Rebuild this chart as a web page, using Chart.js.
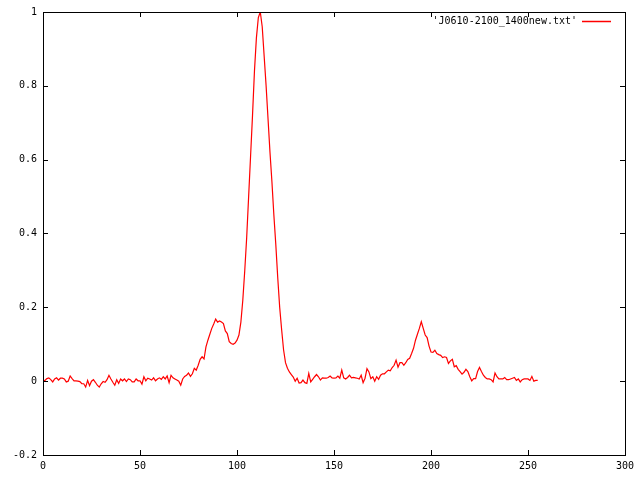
<!DOCTYPE html>
<html>
<head>
<meta charset="utf-8">
<script src="https://cdn.jsdelivr.net/npm/chart.js@4/dist/chart.umd.min.js"></script>
<style>
html,body{margin:0;padding:0;background:#fff;}
#wrap{width:640px;height:480px;}
</style>
</head>
<body>
<div id="wrap"><canvas id="c" width="640" height="480"></canvas></div>
<script>
const seriesLabel = "'J0610-2100_1400new.txt'";
const intensity = [
 0.000, 0.002, 0.007, 0.009, 0.004, -0.002, 0.006, 0.009, 0.003, 0.008,
 0.008, 0.006, -0.002, 0.000, 0.014, 0.007, 0.001, 0.001, 0.000, -0.001,
 -0.007, -0.007, -0.016, 0.002, -0.012, 0.000, 0.004, -0.003, -0.011, -0.016,
 -0.007, -0.001, -0.003, 0.004, 0.016, 0.006, -0.003, -0.011, 0.004, -0.006,
 0.006, 0.001, 0.006, -0.001, 0.006, 0.004, -0.002, -0.002, 0.006, 0.001,
 0.001, -0.008, 0.012, 0.001, 0.008, 0.006, 0.003, 0.009, 0.001, 0.006,
 0.009, 0.005, 0.012, 0.006, 0.014, -0.004, 0.016, 0.009, 0.006, 0.003,
 0.000, -0.011, 0.006, 0.013, 0.016, 0.022, 0.013, 0.020, 0.035, 0.030,
 0.043, 0.059, 0.066, 0.060, 0.093, 0.111, 0.127, 0.143, 0.155, 0.168,
 0.160, 0.163, 0.160, 0.156, 0.136, 0.129, 0.107, 0.102, 0.100, 0.103,
 0.111, 0.125, 0.160, 0.220, 0.300, 0.390, 0.500, 0.610, 0.720, 0.840,
 0.930, 0.985, 1.000, 0.960, 0.880, 0.800, 0.710, 0.620, 0.540, 0.450,
 0.370, 0.280, 0.200, 0.140, 0.085, 0.050, 0.035, 0.025, 0.018, 0.011,
 0.000, 0.008, -0.005, -0.004, 0.003, -0.004, -0.006, 0.021, -0.002, 0.005,
 0.012, 0.018, 0.012, 0.003, 0.009, 0.008, 0.008, 0.010, 0.014, 0.009,
 0.008, 0.009, 0.014, 0.008, 0.030, 0.009, 0.006, 0.010, 0.016, 0.009,
 0.010, 0.009, 0.008, 0.006, 0.016, -0.004, 0.008, 0.034, 0.025, 0.007,
 0.012, 0.000, 0.012, 0.005, 0.016, 0.020, 0.020, 0.025, 0.030, 0.028,
 0.037, 0.043, 0.057, 0.038, 0.050, 0.050, 0.043, 0.050, 0.059, 0.062,
 0.075, 0.089, 0.111, 0.127, 0.143, 0.161, 0.143, 0.125, 0.118, 0.095,
 0.079, 0.078, 0.084, 0.075, 0.072, 0.070, 0.064, 0.066, 0.064, 0.048,
 0.055, 0.059, 0.039, 0.042, 0.032, 0.026, 0.019, 0.024, 0.032, 0.026,
 0.012, 0.001, 0.007, 0.007, 0.026, 0.037, 0.026, 0.016, 0.010, 0.006,
 0.006, 0.004, -0.002, 0.022, 0.012, 0.006, 0.006, 0.006, 0.010, 0.004,
 0.004, 0.006, 0.008, 0.010, 0.002, 0.006, -0.002, 0.004, 0.006, 0.006,
 0.006, 0.002, 0.013, 0.000, 0.002, 0.002
];
const binIndex = intensity.map((_, i) => i);
const xTicks = [0, 50, 100, 150, 200, 250, 300];
const yTicks = [-0.2, 0, 0.2, 0.4, 0.6, 0.8, 1];

const FONT = "DejaVu Sans Mono";
const LINE_COLOR = 'rgb(255,0,0)';

const framePlugin = {
  id: 'gnuFrame',
  afterDraw(chart) {
    const ctx = chart.ctx, a = chart.chartArea;
    const xs = chart.scales.x, ys = chart.scales.y;
    const tl = 5;
    ctx.save();
    ctx.strokeStyle = '#000';
    ctx.lineWidth = 1;
    ctx.beginPath();
    xTicks.forEach(v => {
      const p = Math.round(xs.getPixelForValue(v)) + 0.5;
      ctx.moveTo(p, a.bottom); ctx.lineTo(p, a.bottom - tl);
      ctx.moveTo(p, a.top); ctx.lineTo(p, a.top + tl);
    });
    yTicks.forEach(v => {
      const p = Math.round(ys.getPixelForValue(v)) + 0.5;
      ctx.moveTo(a.left, p); ctx.lineTo(a.left + tl, p);
      ctx.moveTo(a.right, p); ctx.lineTo(a.right - tl, p);
    });
    ctx.stroke();
    ctx.strokeRect(Math.round(a.left) + 0.5, Math.round(a.top) + 0.5,
                   Math.round(a.right - a.left), Math.round(a.bottom - a.top));
    // legend (gnuplot style, inside top-right)
    const ds = chart.data.datasets[0];
    ctx.font = '10px "' + FONT + '"';
    ctx.fillStyle = '#000';
    ctx.textAlign = 'right';
    ctx.textBaseline = 'middle';
    const ly = Math.round(a.top + 9);
    ctx.fillText(ds.label, a.right - 48, ly);
    ctx.beginPath();
    ctx.strokeStyle = LINE_COLOR;
    ctx.lineWidth = 1.5;
    ctx.moveTo(Math.round(a.right - 43), ly + 0.5);
    ctx.lineTo(Math.round(a.right - 14), ly + 0.5);
    ctx.stroke();
    ctx.restore();
  }
};

new Chart(document.getElementById('c'), {
  type: 'line',
  data: {
    datasets: [{
      label: seriesLabel,
      data: binIndex.map((x, i) => ({x: x, y: intensity[i]})),
      borderColor: LINE_COLOR,
      borderWidth: 1.2,
      pointRadius: 0,
      tension: 0,
      fill: false
    }]
  },
  options: {
    responsive: false,
    animation: false,
    events: [],
    layout: {padding: {top: 12, right: 15, left: 0, bottom: 0}},
    plugins: {legend: {display: false}, tooltip: {enabled: false}},
    scales: {
      x: {
        type: 'linear', min: 0, max: 300,
        afterBuildTicks: s => { s.ticks = xTicks.map(v => ({value: v})); },
        afterFit: s => { s.height = 25; },
        grid: {display: false, drawTicks: false},
        border: {display: false},
        ticks: {padding: 5, color: '#000', font: {family: FONT, size: 10},
                maxRotation: 0, autoSkip: false, callback: v => String(v)}
      },
      y: {
        type: 'linear', min: -0.2, max: 1,
        afterBuildTicks: s => { s.ticks = yTicks.map(v => ({value: v})); },
        afterFit: s => { s.width = 43; },
        grid: {display: false, drawTicks: false},
        border: {display: false},
        ticks: {padding: 6, color: '#000', font: {family: FONT, size: 10},
                autoSkip: false,
                callback: v => String(Math.round(v * 10) / 10)}
      }
    }
  },
  plugins: [framePlugin]
});
</script>
</body>
</html>
